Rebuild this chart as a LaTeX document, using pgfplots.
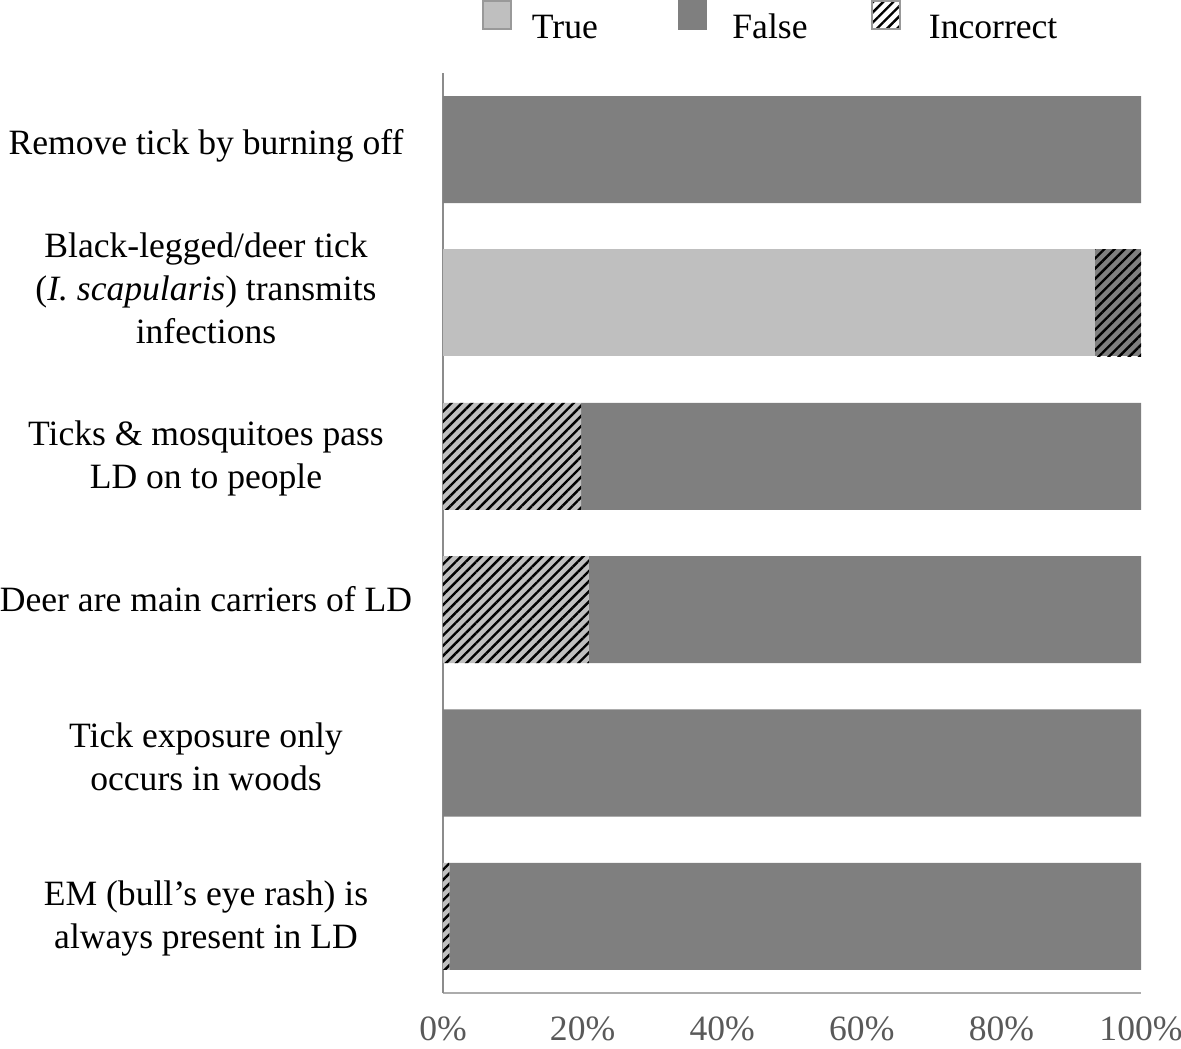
\documentclass[border=0pt]{standalone}
\usepackage{fontspec}
\setmainfont{Liberation Serif}
\usepackage{pgfplots}
\pgfplotsset{compat=1.18}
\usetikzlibrary{patterns.meta}
\definecolor{ctrue}{HTML}{BFBFBF}
\definecolor{cfalse}{HTML}{7F7F7F}
\definecolor{ctick}{HTML}{595959}
\tikzset{hatch/.style={postaction={pattern={Lines[angle=45,distance=3.6pt,line width=1.2pt]},pattern color=black}}}
\newcommand{\lab}[2]{\raisebox{#1}[0pt][0pt]{\begin{tabular}{@{}c@{}}#2\end{tabular}}}
\begin{document}
\begin{tikzpicture}
\begin{axis}[name=ax, width=349pt, height=460pt, scale only axis,
  xbar stacked, bar width=53.5pt,
  xmin=0, xmax=100, ymin=-0.5, ymax=5.5,
  axis x line*=bottom, axis y line*=left,
  x axis line style={draw=gray!65, line width=1pt, -},
  y axis line style={draw=gray!90, line width=1pt, -},
  major tick length=0pt,
  xtick={0,20,40,60,80,100},
  xticklabels={0\%,20\%,40\%,60\%,80\%,100\%},
  xticklabel style={text=ctick, font=\fontsize{17.8}{21.5}\selectfont, inner sep=0pt, yshift=-11.5pt},
  ytick={0,1,2,3,4,5},
  yticklabels={{\lab{-5.2pt}{EM (bull’s eye rash) is\\always present in LD}},
               {\lab{-3.2pt}{Tick exposure only\\occurs in woods}},
               {\lab{-1pt}{Deer are main carriers of LD}},
               {\lab{-5.2pt}{Ticks \& mosquitoes pass\\LD on to people}},
               {\lab{1.1pt}{Black-legged/deer tick\\(\textit{I. scapularis}) transmits\\infections}},
               {\lab{-2.45pt}{Remove tick by burning off}}},
  yticklabel style={anchor=center, xshift=-118.5pt, text=black,
                    font=\fontsize{17.8}{21.5}\selectfont},
  legend image code/.code={\draw[#1, line width=0.75pt] (0pt,-2pt) rectangle (14pt,12pt);},
  legend columns=-1,
  legend style={at={(0.0559,1.0795)}, anchor=north west, draw=none, inner sep=0pt,
                font=\fontsize{17.8}{21.5}\selectfont,
                /tikz/every odd column/.append style={column sep=8pt}},
]
\addlegendimage{fill=ctrue, draw=gray!80}
\addlegendentry{\makebox[71pt][l]{\strut True}}
\addlegendimage{fill=cfalse, draw=cfalse}
\addlegendentry{\makebox[70pt][l]{\hspace{2.5pt}\strut False}}
\addlegendimage{fill=white, draw=gray!80, hatch}
\addlegendentry{\hspace{4pt}\strut Incorrect}
% incorrect answered "True" (hatched on light gray)
\addplot[fill=ctrue, draw=none, hatch, forget plot] coordinates {(0.9,0) (0,1) (20.9,2) (19.8,3) (0,4) (0,5)};
% True
\addplot[fill=ctrue, draw=none, forget plot] coordinates {(0,0) (0,1) (0,2) (0,3) (93.4,4) (0,5)};
% False
\addplot[fill=cfalse, draw=none, forget plot] coordinates {(99.1,0) (100,1) (79.1,2) (80.2,3) (0,4) (100,5)};
% incorrect answered "False" (hatched on dark gray)
\addplot[fill=cfalse, draw=none, hatch, forget plot] coordinates {(0,0) (0,1) (0,2) (0,3) (6.6,4) (0,5)};
\end{axis}
\pgfresetboundingbox
\path[use as bounding box] ([xshift=-221.5pt,yshift=-27.5pt]ax.south west) rectangle ([xshift=20pt,yshift=36.5pt]ax.north east);
\end{tikzpicture}
\end{document}
